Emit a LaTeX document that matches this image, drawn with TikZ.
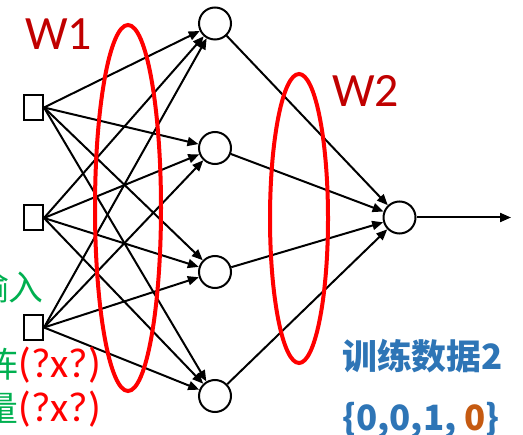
\documentclass[tikz,border=0pt]{standalone}
\usepackage{fontspec}
\setmainfont{Carlito}
\newfontfamily\cjk{Noto Sans CJK SC}
\usetikzlibrary{arrows.meta}
\definecolor{wred}{HTML}{C00000}
\definecolor{tgreen}{HTML}{00B050}
\definecolor{tblue}{HTML}{2E75B6}
\definecolor{torange}{HTML}{C55A11}
\definecolor{ered}{HTML}{FF0000}
\tikzset{
  inbox/.style={draw=black, line width=2bp, fill=white, minimum width=19bp, minimum height=25bp, inner sep=0},
  neuron/.style={draw=black, line width=2bp, fill=white, circle, minimum size=32bp, inner sep=0},
  arr/.style={draw=black, line width=2bp, -{Triangle[length=11bp,width=9bp]}},
  grp/.style={draw=ered, line width=4bp},
  wlabel/.style={text=wred, inner sep=0, anchor=base west, font=\fontsize{48}{48}\selectfont},
  sidetext/.style={inner sep=0, anchor=base east},
  bluetext/.style={inner sep=0, anchor=base west, text=tblue, font=\cjk\bfseries\fontsize{35}{35}\selectfont}
}
\begin{document}
\begin{tikzpicture}[x=1bp,y=-1bp]
\useasboundingbox (0,0) rectangle (523,435);
% nodes
\node[inbox] (i1) at (33.5,107.5) {};
\node[inbox] (i2) at (33.5,218) {};
\node[inbox] (i3) at (33.5,327.5) {};
\node[neuron] (h1) at (215,23.5) {};
\node[neuron] (h2) at (215,148) {};
\node[neuron] (h3) at (215,272) {};
\node[neuron] (h4) at (215,396) {};
\node[neuron] (o) at (399.5,217.5) {};
\coordinate (out) at (511,217.5);
% connections input -> hidden
\foreach \i in {1,2,3}{
  \foreach \h in {1,2,3,4}{
    \draw[arr] (i\i.east) -- (h\h);
  }
}
% hidden -> output
\foreach \h in {1,2,3,4}{
  \draw[arr] (h\h) -- (o);
}
\draw[arr] (o.east) -- (out);
% groups
\draw[grp] (128,208) ellipse [x radius=33, y radius=183];
\draw[grp] (299,218.5) ellipse [x radius=29, y radius=144.5];
% labels
\node[wlabel] (w1) at (25,50) {W1};
\node[wlabel] (w2) at (332,107) {W2};
\node[sidetext, text=tgreen, font=\cjk\fontsize{35}{35}\selectfont] (t1) at (44,300) {输入};
\node[sidetext, font=\fontsize{42}{42}\selectfont] (t2) at (101,377) {\textcolor{tgreen}{\cjk\fontsize{35}{35}\selectfont 矩阵}\textcolor{ered}{(?x?)}};
\node[sidetext, font=\fontsize{42}{42}\selectfont] (t3) at (101,421) {\textcolor{tgreen}{\cjk\fontsize{35}{35}\selectfont 向量}\textcolor{ered}{(?x?)}};
\node[bluetext] (d1) at (342,369) {训练数据2};
\node[bluetext] (d2) at (342,430) {\{0,0,1, \textcolor{torange}{0}\}};
\end{tikzpicture}
\end{document}
